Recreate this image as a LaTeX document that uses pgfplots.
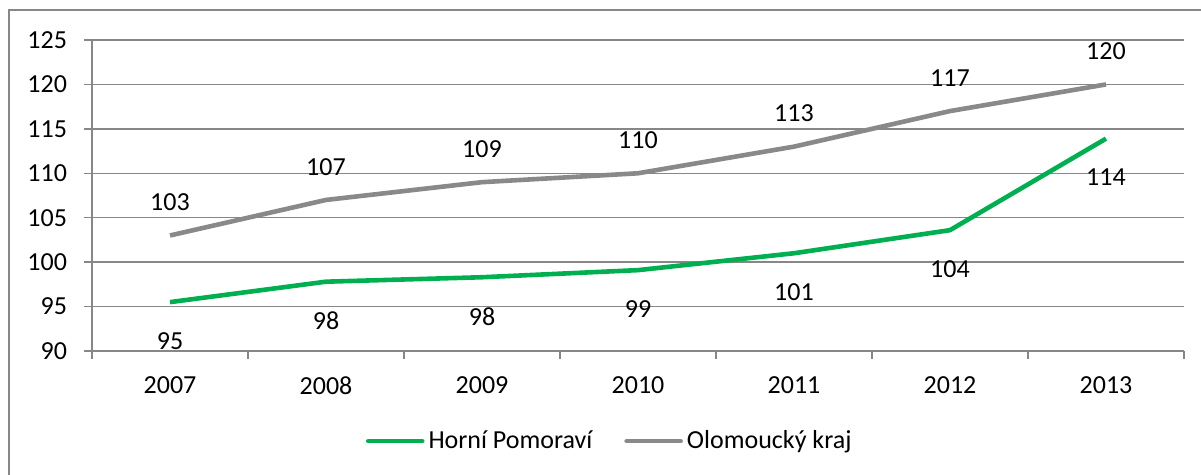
\documentclass[border=0pt]{standalone}
\usepackage{pgfplots}
\pgfplotsset{compat=1.18}
\usepackage{fontspec}
\setmainfont{Carlito}
\definecolor{hpgreen}{HTML}{00B050}
\definecolor{olgray}{HTML}{898989}
\definecolor{gridgray}{HTML}{878787}

\begin{document}
\fontsize{13}{15.6}\selectfont
\begin{tikzpicture}
\useasboundingbox (0,0) rectangle (600.5pt,237.5pt);
% outer chart frame (runs off right and bottom)
\draw[gridgray, line width=0.75pt] (4.5pt,-5pt) -- (4.5pt,232.5pt) -- (610pt,232.5pt);
\begin{axis}[
  at={(46pt,62pt)}, anchor=south west,
  scale only axis, width=546pt, height=155.5pt,
  xmin=-0.5, xmax=6.5, ymin=90, ymax=125,
  xtick={0,...,6},
  xticklabels={2007,2008,2009,2010,2011,2012,2013},
  minor xtick={-0.5,0.5,...,6.5},
  ytick={90,95,...,125},
  axis x line*=bottom, axis y line*=left,
  axis line style={gridgray, line width=0.75pt},
  tick align=outside, major tick length=4pt, minor tick length=4pt,
  every major x tick/.style={draw=none},
  every minor x tick/.style={gridgray, line width=0.75pt},
  every major y tick/.style={gridgray, line width=0.75pt},
  ymajorgrids, grid style={gridgray, line width=0.75pt},
  /pgf/number format/assume math mode=true,
  tick label style={font=\fontsize{13}{15.6}\selectfont},
  xticklabel style={yshift=-4.5pt},
  yticklabel style={xshift=-4pt},
  legend style={at={(0.475,-0.29)}, anchor=center, draw=none,
    font=\fontsize{13}{15.6}\selectfont, legend columns=2,
    /tikz/every even column/.append style={column sep=14pt}},
  legend image code/.code={\draw[#1, line cap=round] (0pt,0pt) -- (27pt,0pt);},
  nodes near coords={\pgfplotspointmeta},
  point meta=explicit symbolic,
  every node near coord/.append style={font=\fontsize{13}{15.6}\selectfont, anchor=center, text=black},
]
\addplot[hpgreen, line width=2.3pt, mark=none,
  every node near coord/.append style={yshift=-19.5pt}] coordinates {
  (0,95.5) [95]
  (1,97.8) [98]
  (2,98.3) [98]
  (3,99.1) [99]
  (4,101.0) [101]
  (5,103.6) [104]
  (6,113.9) [114]
};
\addlegendentry{Horní Pomoraví}
\addplot[olgray, line width=2.3pt, mark=none,
  every node near coord/.append style={yshift=16.5pt}] coordinates {
  (0,103) [103]
  (1,107) [107]
  (2,109) [109]
  (3,110) [110]
  (4,113) [113]
  (5,117) [117]
  (6,120) [120]
};
\addlegendentry{Olomoucký kraj}
\end{axis}
\end{tikzpicture}
\end{document}
